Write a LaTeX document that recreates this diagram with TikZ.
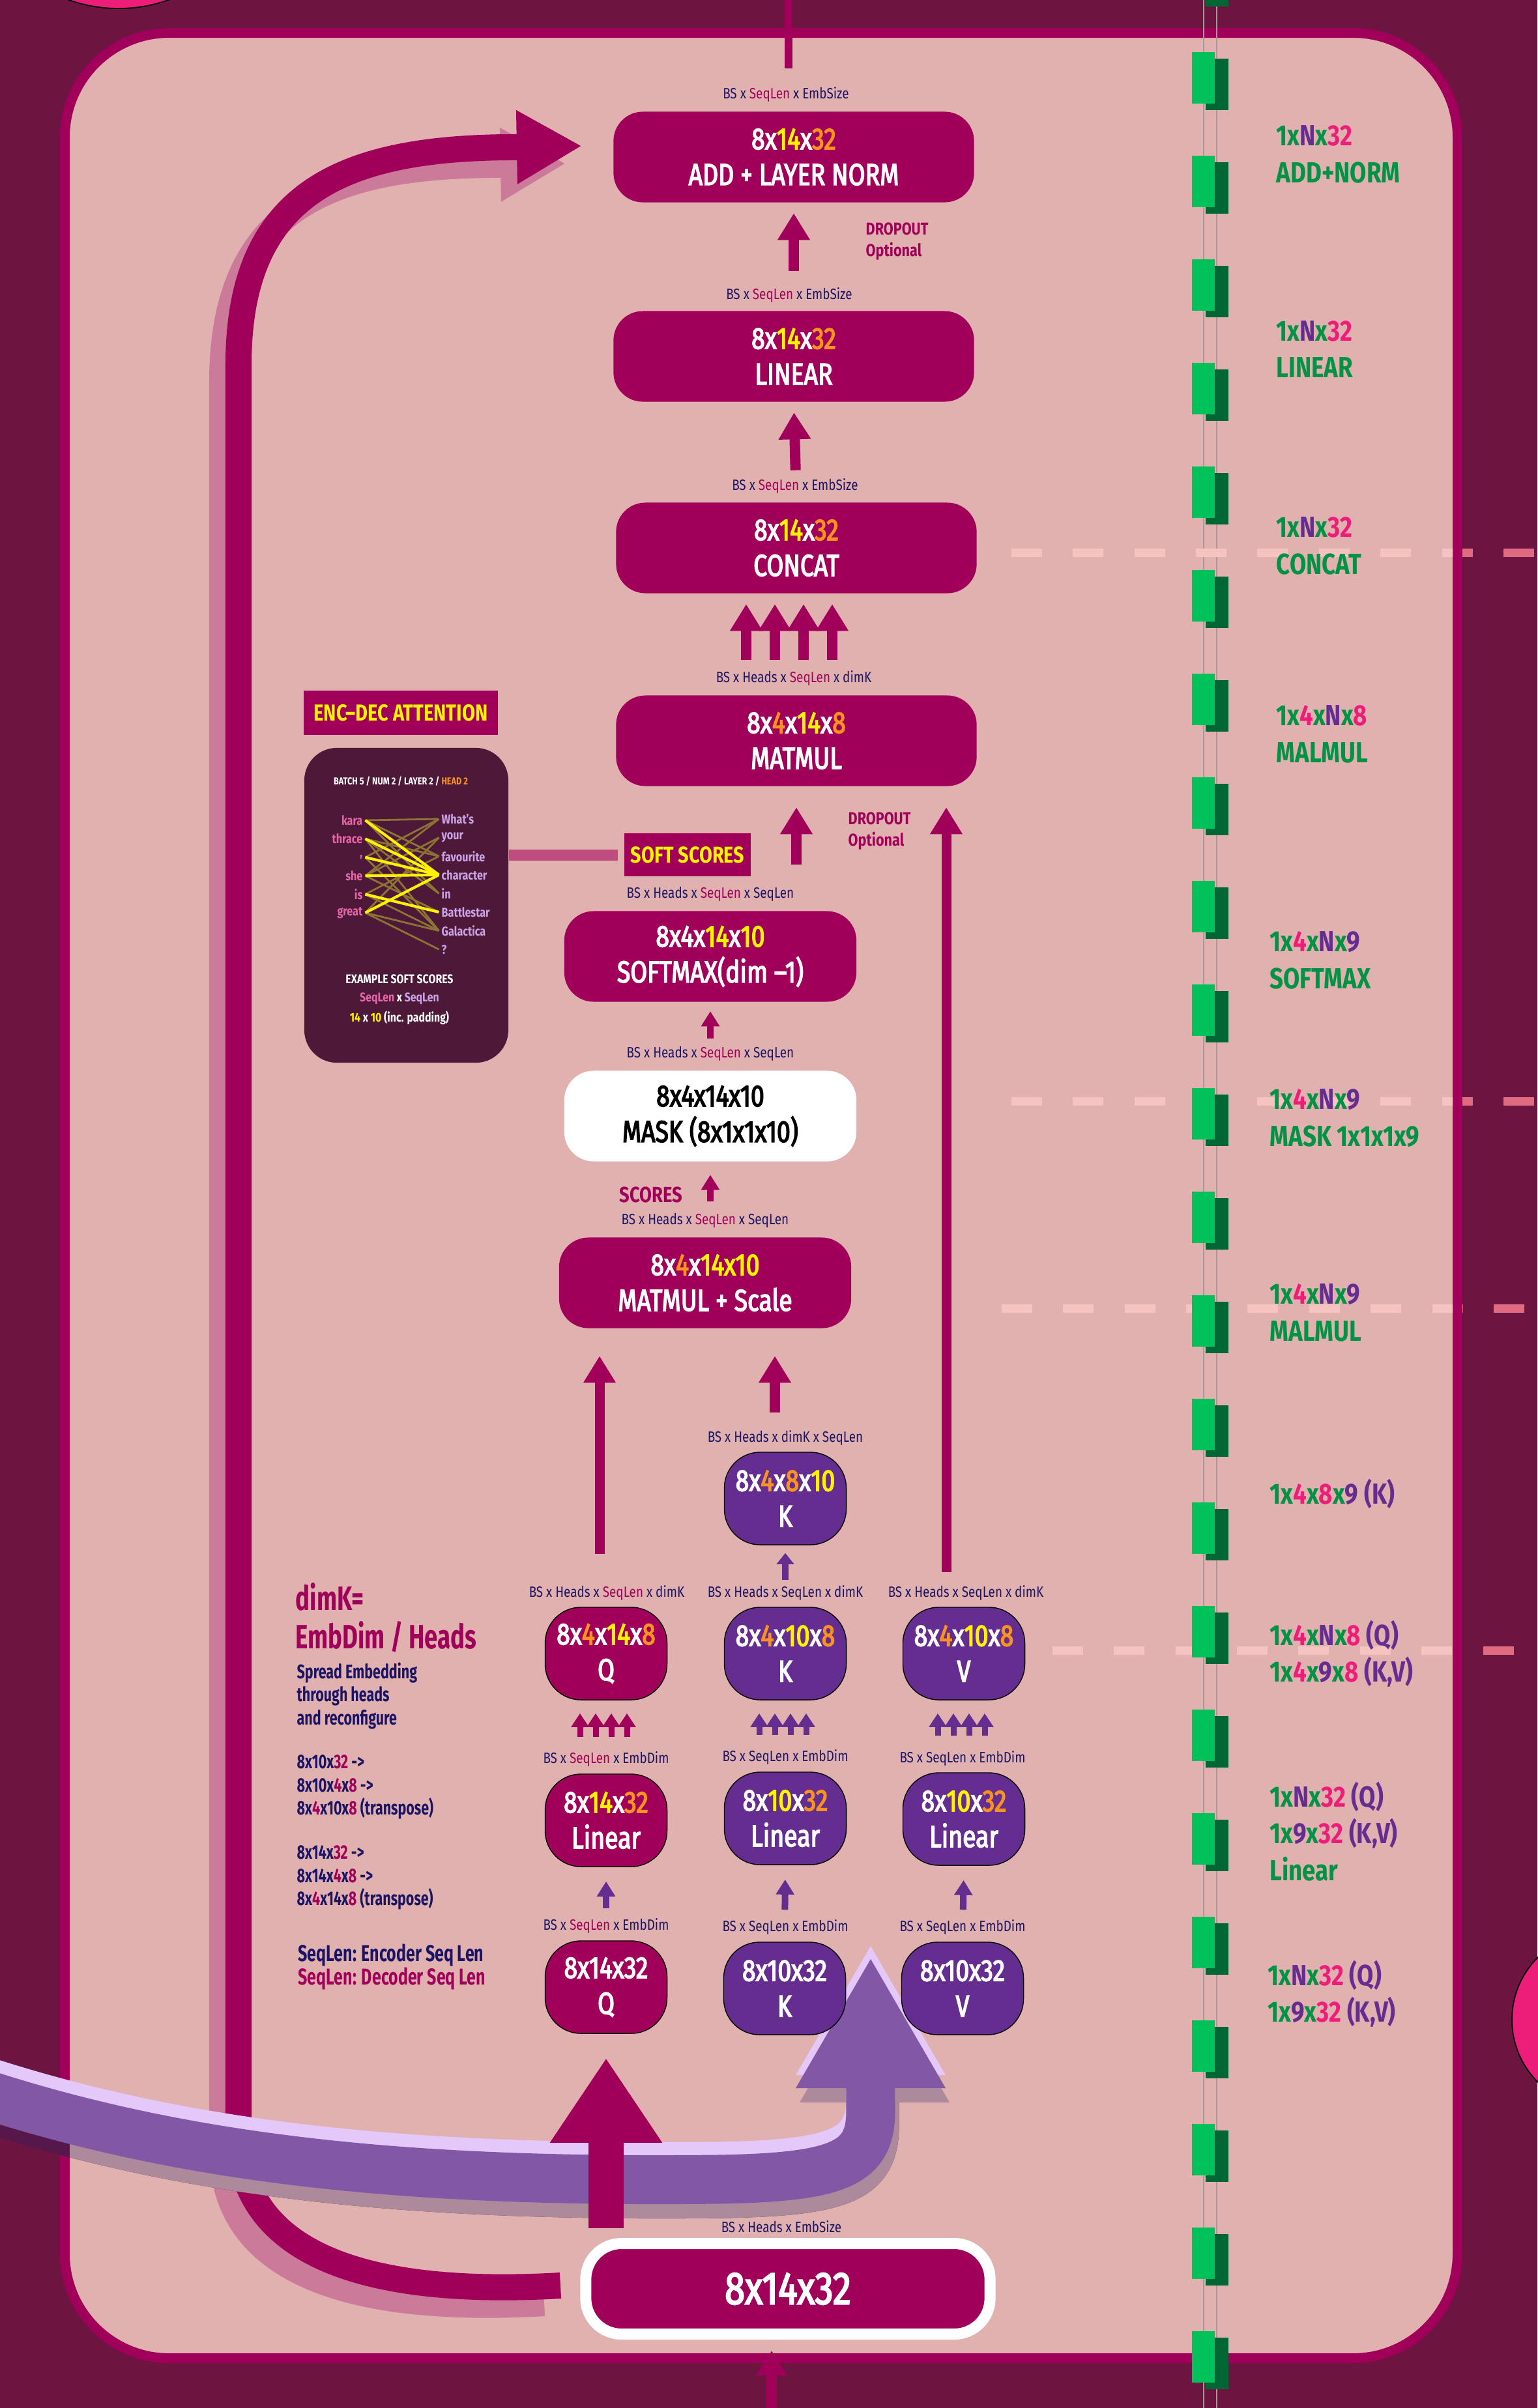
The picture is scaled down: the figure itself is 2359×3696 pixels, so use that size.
\documentclass[tikz,border=0pt]{standalone}
\usepackage{fontspec}
\setmainfont{Fira Sans}[FakeStretch=0.82]
\newfontfamily\notefont{Fira Sans}[FakeStretch=0.71]
\newfontfamily\boxfnt{Fira Sans}[FakeStretch=0.8, FakeBold=3]
\usetikzlibrary{arrows.meta,calc}

\definecolor{bgdark}{HTML}{6C1540}
\definecolor{panel}{HTML}{E1B1AF}
\definecolor{mag}{HTML}{A0005A}
\definecolor{purp}{HTML}{662D91}
\definecolor{bandpurp}{HTML}{8257A6}
\definecolor{lav}{HTML}{E4C8FA}
\definecolor{hlyel}{HTML}{FFF200}
\definecolor{hlora}{HTML}{F7931E}
\definecolor{navy}{HTML}{1B1464}
\definecolor{grn}{HTML}{009245}
\definecolor{pnk}{HTML}{ED1E79}
\definecolor{lgreen}{HTML}{00C15A}
\definecolor{dgreen}{HTML}{006633}
\definecolor{plum}{HTML}{4E1838}
\definecolor{loopshade}{HTML}{CC7A99}
\definecolor{dashpale}{HTML}{F5C4C0}
\definecolor{dashpink}{HTML}{E06A80}
\definecolor{wordpink}{HTML}{E466A8}
\definecolor{wordlav}{HTML}{C9A3E6}
\definecolor{olive}{HTML}{8C7434}
\definecolor{barpink}{HTML}{BF4C7E}
\definecolor{shadelight}{HTML}{AD8A9B}
\definecolor{shadedark}{HTML}{56184A}
\definecolor{railgray}{HTML}{A89898}

\newcommand{\ye}[1]{\textcolor{hlyel}{#1}}
\newcommand{\og}[1]{\textcolor{hlora}{#1}}
\newcommand{\mg}[1]{\textcolor{mag}{#1}}
\newcommand{\pk}[1]{\textcolor{pnk}{#1}}
\newcommand{\pu}[1]{\textcolor{purp}{#1}}

% residual loop and encoder band (pixel units)
\newcommand{\looppath}{(860,3508) .. controls (560,3525) and (372,3460) .. (366,3280) -- (366,560) .. controls (366,300) and (520,228) .. (780,226) -- (893,224)}
\newcommand{\bandpath}{(-30,3212) .. controls (300,3320) and (650,3350) .. (1100,3345) .. controls (1290,3342) and (1336,3320) .. (1336,3240) -- (1336,3201)}
\newcommand{\bandhead}{(1221,3205) -- (1451,3205) -- (1336,3007) -- cycle}

\begin{document}
\begin{tikzpicture}[x=0.01cm, y=-0.01cm,
    box/.style={fill=mag, text=white, rounded corners=0.45cm, align=center, inner sep=0pt,
      minimum width=5.53cm, minimum height=1.39cm, font=\boxfnt\fontsize{13.3}{15.6}\selectfont},
    cell/.style={box, draw=black, line width=0.4pt, rounded corners=0.55cm,
      minimum width=1.87cm, minimum height=1.42cm},
    dims/.style={text=navy, inner sep=0pt, font=\fontsize{6.55}{7.5}\selectfont},
    side/.style={text=grn, anchor=west, align=left, inner sep=0pt, font=\bfseries\fontsize{12.7}{16}\selectfont},
    note/.style={text=navy, anchor=west, align=left, inner sep=0pt, font=\notefont\bfseries\fontsize{8.6}{10}\selectfont},
    word/.style={inner sep=0pt, font=\bfseries\fontsize{5.6}{7}\selectfont},
    fat/.style={mag, line width=0.16cm, -{Triangle[width=0.47cm,length=0.41cm]}},
    slim/.style={line width=0.1cm, -{Triangle[width=0.27cm,length=0.23cm]}},
  ]
  \useasboundingbox (0,0) rectangle (2359,3696);
  \fill[bgdark] (0,0) rectangle (2359,3696);
  \fill[pnk, draw=black, line width=0.5pt] (182,-215) circle (228);
  \fill[pnk, draw=black, line width=0.5pt] (2455,3100) circle (135);

  % panel
  \draw[mag, fill=panel, line width=0.15cm, rounded corners=1.6cm] (99.5,50.5) rectangle (2236.5,3619.5);
  \coordinate (topin) at (1210,105);
  \draw[mag, line width=0.12cm] (topin) -- (topin |- 0,-10);

  \draw[railgray, line width=0.6pt] (1847,0) -- (1847,3696);
  \draw[railgray, line width=0.6pt] (1867,0) -- (1867,3696);

  % dashed guides
  \begin{scope}
    \clip (0,0) rectangle (2229,3696);
    \foreach \yy/\xs in {848/1552, 1690/1552, 2008/1537, 2533/1615}
      \draw[dashpale, line width=0.13cm, dash pattern=on 0.47cm off 0.473cm] (\xs,\yy) -- (2359,\yy);
  \end{scope}
  \begin{scope}
    \clip (2244,0) rectangle (2359,3696);
    \foreach \yy/\xs in {848/1552, 1690/1552, 2008/1537, 2533/1615}
      \draw[dashpink, line width=0.13cm, dash pattern=on 0.47cm off 0.473cm] (\xs,\yy) -- (2359,\yy);
  \end{scope}

  % residual loop
  \draw[loopshade, line width=0.4cm, -{Triangle[width=1.06cm,length=1cm]}, shift={(-25,27)}] \looppath;
  \draw[mag, line width=0.4cm, -{Triangle[width=1.06cm,length=1cm]}] \looppath;

  % encoder band
  \draw[shadedark, line width=0.75cm, shift={(6,22)}] \bandpath;
  \begin{scope}
    \clip[rounded corners=1.52cm] (107,58) rectangle (2229,3612);
    \draw[shadelight, line width=0.75cm, shift={(6,22)}] \bandpath;
    \fill[shadelight, shift={(6,22)}] \bandhead;
  \end{scope}
  \draw[lav, line width=0.75cm, shift={(0,-20)}] \bandpath;
  \fill[lav, shift={(0,-20)}] \bandhead;
  \draw[bandpurp, line width=0.75cm] \bandpath;
  \fill[bandpurp] \bandhead;

  % decoder stack
  \node[box] (add) at (1218,241) {8x\ye{14}x\og{32}\\ADD + LAYER NORM};
  \node[box] (lin) at (1218,547) {8x\ye{14}x\og{32}\\LINEAR};
  \node[box] (cat) at (1222,841) {8x\ye{14}x\og{32}\\CONCAT};
  \node[box] (mm) at (1222,1137) {8x\og{4}x\ye{14}x\og{8}\\MATMUL};
  \node[box, minimum width=4.48cm] (smax) at (1090,1468) {8x4x\ye{14}x\ye{10}\\SOFTMAX(dim –1)};
  \node[box, minimum width=4.48cm, fill=white, text=black] (mask) at (1090,1713) {8x4x14x10\\MASK (8x1x1x10)};
  \node[box, minimum width=4.48cm] (mms) at (1082,1969) {8x\og{4}x\ye{14x10}\\MATMUL + Scale};

  \node[dims] (d1) at (1206,145) {BS x \mg{SeqLen} x EmbSize};
  \node[dims] (d2) at (1211,453) {BS x \mg{SeqLen} x EmbSize};
  \node[dims] (d3) at (1220,746) {BS x \mg{SeqLen} x EmbSize};
  \node[dims] (d4) at (1218,1041) {BS x Heads x \mg{SeqLen} x dimK};
  \node[dims] (d5) at (1090,1372) {BS x Heads x \mg{SeqLen} x SeqLen};
  \node[dims] (d6) at (1090,1617) {BS x Heads x \mg{SeqLen} x SeqLen};
  \node[dims] (d7) at (1082,1873) {BS x Heads x \mg{SeqLen} x SeqLen};

  \node[anchor=west, align=left, text=mag, inner sep=0pt, font=\bfseries\fontsize{7.5}{9.4}\selectfont] (drop1) at (1328,371) {DROPOUT\\Optional};
  \node[anchor=west, align=left, text=mag, inner sep=0pt, font=\bfseries\fontsize{7.5}{9.4}\selectfont] (drop2) at (1301,1276) {DROPOUT\\Optional};
  \node[text=mag, inner sep=0pt, font=\bfseries\fontsize{9.5}{11}\selectfont] (scores) at (999,1834) {SCORES};
  \node[fill=mag, text=hlyel, minimum width=1.94cm, minimum height=0.66cm, inner sep=0pt,
    font=\bfseries\fontsize{10}{12}\selectfont] (soft) at (1055,1312) {SOFT SCORES};

  % heads
  \node[cell, fill=purp] (kt) at (1205,2300) {8x\og{4}x\og{8}x\ye{10}\\K};
  \node[dims] (d8) at (1205,2207) {BS x Heads x dimK x SeqLen};

  \node[cell] (qh) at (930,2538) {8x\og{4}x\ye{14}x\og{8}\\Q};
  \node[cell, fill=purp] (kh) at (1205,2538) {8x\og{4}x\ye{10}x\og{8}\\K};
  \node[cell, fill=purp] (vh) at (1479,2538) {8x\og{4}x\ye{10}x\og{8}\\V};
  \node[cell] (ql) at (930,2794) {8x\ye{14}x\og{32}\\Linear};
  \node[cell, fill=purp] (kl) at (1205,2791) {8x\ye{10}x\og{32}\\Linear};
  \node[cell, fill=purp] (vl) at (1479,2792) {8x\ye{10}x\og{32}\\Linear};
  \node[cell] (qi) at (930,3050) {8x14x32\\Q};
  \node[cell, fill=purp] (ki) at (1204,3052) {8x10x32\\K};
  \node[cell, fill=purp] (vi) at (1477,3052) {8x10x32\\V};

  \node[dims] (d9) at (931,2445) {BS x Heads x \mg{SeqLen} x dimK};
  \node[dims] (d10) at (1205,2445) {BS x Heads x SeqLen x dimK};
  \node[dims] (d11) at (1482,2445) {BS x Heads x SeqLen x dimK};
  \node[dims] (d12) at (930,2700) {BS x \mg{SeqLen} x EmbDim};
  \node[dims] (d13) at (1205,2697) {BS x SeqLen x EmbDim};
  \node[dims] (d14) at (1477,2699) {BS x SeqLen x EmbDim};
  \node[dims] (d15) at (930,2956) {BS x \mg{SeqLen} x EmbDim};
  \node[dims] (d16) at (1205,2958) {BS x SeqLen x EmbDim};
  \node[dims] (d17) at (1477,2958) {BS x SeqLen x EmbDim};

  \node[box, draw=white, line width=0.17cm, minimum width=6.2cm, minimum height=1.39cm,
    rounded corners=0.55cm, font=\boxfnt\fontsize{20}{23}\selectfont] (inbox) at (1209,3513) {8x14x32};
  \node[dims] (d18) at (1199,3418) {BS x Heads x EmbSize};

  % connectors
  \draw[fat, shorten <=0.61cm, shorten >=0.16cm] (lin.north) -- (add.south);
  \draw[fat, shorten <=0.49cm, shorten >=0.16cm] (cat.north) -- (lin.south);
  \foreach \dx in {-77,-33,11,55}
    \draw[fat, shorten <=0.54cm, shorten >=0.16cm] ($(mm.north)+(\dx,0)$) -- ($(cat.south)+(\dx,0)$);
  \draw[fat, shorten <=0.71cm, shorten >=0.32cm] (smax.north -| mm.south) -- (mm.south);
  \coordinate (vtop) at ($(vh.north)+(-27,0)$);
  \draw[fat, line width=0.15cm, shorten <=0.53cm, shorten >=0.32cm] (vtop) -- (vtop |- mm.south);
  \draw[slim, mag, shorten <=0.49cm, shorten >=0.14cm] (mask.north) -- (smax.south);
  \draw[slim, mag, shorten <=0.55cm, shorten >=0.2cm] (mms.north -| mask.south) -- (mask.south);
  \coordinate (qtop) at ($(qh.north)+(-10,0)$);
  \draw[fat, line width=0.15cm, shorten <=0.81cm, shorten >=0.42cm] (qtop) -- (qtop |- mms.south);
  \coordinate (ktop) at ($(kt.north)+(-16,0)$);
  \draw[fat, shorten <=0.6cm, shorten >=0.42cm] (ktop) -- (ktop |- mms.south);
  \draw[slim, purp, -{Triangle[width=0.26cm,length=0.17cm]}, shorten <=0.41cm, shorten >=0.12cm] (kh.north) -- (kt.south);
  \foreach \s/\t/\col in {ql/qh/mag, kl/kh/purp, vl/vh/purp}
    \foreach \dx in {-40,-16,8,32}
      \draw[slim, \col, line width=0.09cm, -{Triangle[width=0.26cm,length=0.21cm]}, shorten <=0.56cm, shorten >=0.2cm]
        ($(\s.north)+(\dx,0)$) -- ($(\t.south)+(\dx,0)$);
  \foreach \s/\t in {qi/ql, ki/kl, vi/vl}
    \draw[slim, purp, shorten <=0.49cm, shorten >=0.22cm] (\s.north) -- (\t.south);
  \draw[mag, line width=0.54cm, -{Triangle[width=1.63cm,length=1.3cm]}, shorten <=0.15cm, shorten >=0.37cm]
    (inbox.north -| qi.south) -- (qi.south);
  \coordinate (botin) at (1184,3710);
  \draw[fat, -{Triangle[width=0.46cm,length=0.38cm]}, shorten >=0.17cm] (botin) -- (botin |- inbox.south);

  % enc-dec attention example
  \node[fill=mag, text=hlyel, minimum width=2.97cm, minimum height=0.68cm, inner sep=0pt,
    font=\bfseries\fontsize{10.1}{12}\selectfont] (enctitle) at (615,1094) {ENC–DEC ATTENTION};
  \node[fill=plum, rounded corners=0.5cm, minimum width=3.13cm, minimum height=4.83cm, inner sep=0pt] (encbox) at (623.5,1389.5) {};
  \draw[barpink, line width=0.17cm, shorten >=0.09cm] (encbox.east |- soft.west) -- (soft.west);
  \node[text=white, inner sep=0pt, font=\bfseries\fontsize{4.4}{6}\selectfont] (hdr) at (615,1199) {BATCH 5 / NUM 2 / LAYER 2 / \og{HEAD 2}};
  \foreach \w [count=\i] in {kara,thrace,{,},she,is,great}
    \node[word, text=wordpink, anchor=east] (l\i) at (557,{1259+28.4*(\i-1)}) {\w};
  \foreach \w [count=\i] in {What's,your,favourite,character,in,Battlestar,Galactica,?}
    \node[word, text=wordlav, anchor=west] (r\i) at (677,{1257+28.6*(\i-1)}) {\w};
  \foreach \a/\b in {1/1,1/3,1/5,2/3,2/7,3/1,3/7,4/1,4/2,5/3,5/7,6/7,6/8,6/2,4/6,2/5}
    \draw[olive, line width=0.8pt] ([xshift=1pt]l\a.east) -- ([xshift=-1pt]r\b.west);
  \foreach \a/\b in {1/4,2/4,3/4,4/4,6/4,5/6}
    \draw[hlyel, line width=1.2pt] ([xshift=1pt]l\a.east) -- ([xshift=-1pt]r\b.west);
  \node[text=white, inner sep=0pt, font=\bfseries\fontsize{5.5}{7}\selectfont] (exs) at (613,1503) {EXAMPLE SOFT SCORES};
  \node[text=white, inner sep=0pt, font=\bfseries\fontsize{5.5}{7}\selectfont] (exd) at (613,1533) {\textcolor{wordpink}{SeqLen} x \textcolor{wordlav}{SeqLen}};
  \node[text=white, inner sep=0pt, font=\bfseries\fontsize{5.5}{7}\selectfont] (exn) at (613,1562) {\ye{14} x \ye{10} (inc. padding)};

  % notes on the left
  \node[note, text=mag, font=\notefont\bfseries\fontsize{14.7}{16.8}\selectfont] (dimk) at (453,2483) {dimK=\\EmbDim / Heads};
  \node[note] (spread) at (455,2603) {Spread Embedding\\through heads\\and reconfigure};
  \node[note] (ex1) at (455,2743) {8x10x\mg{32} ->\\8x10x\mg{4}x\mg{8} ->\\8x\mg{4}x10x\mg{8} (transpose)};
  \node[note] (ex2) at (455,2882) {8x14x\mg{32} ->\\8x14x\mg{4}x\mg{8} ->\\8x\mg{4}x14x\mg{8} (transpose)};
  \node[note, font=\notefont\bfseries\fontsize{10}{10.2}\selectfont] (seqn) at (457,3019) {SeqLen: Encoder Seq Len\\\mg{SeqLen: Decoder Seq Len}};

  % per-token sizes on the right
  \node[side] (s1) at (1958,237) {1x\pu{N}x\pk{32}\\ADD+NORM};
  \node[side] (s2) at (1958,536) {1x\pu{N}x\pk{32}\\LINEAR};
  \node[side] (s3) at (1958,838) {1x\pu{N}x\pk{32}\\CONCAT};
  \node[side] (s4) at (1958,1127) {1x\pk{4}x\pu{N}x\pk{8}\\MALMUL};
  \node[side] (s5) at (1948,1474) {1x\pk{4}x\pu{N}x\pu{9}\\SOFTMAX};
  \node[side] (s6) at (1948,1716) {1x\pk{4}x\pu{N}x\pu{9}\\MASK 1x1x1x9};
  \node[side] (s7) at (1948,2015) {1x\pk{4}x\pu{N}x\pu{9}\\MALMUL};
  \node[side] (s8) at (1948,2293) {1x\pk{4}x\pk{8}x\pu{9} \pu{(K)}};
  \node[side] (s9) at (1948,2538) {1x\pk{4}x\pu{N}x\pk{8} \pu{(Q)}\\1x\pk{4}x\pu{9}x\pk{8} \pu{(K,V)}};
  \node[side] (s10) at (1948,2811) {1x\pu{N}x\pk{32} \pu{(Q)}\\1x\pu{9}x\pk{32} \pu{(K,V)}\\Linear};
  \node[side] (s11) at (1945,3060) {1x\pu{N}x\pk{32} \pu{(Q)}\\1x\pu{9}x\pk{32} \pu{(K,V)}};

  % green rail
  \foreach \k in {-1,...,22}
    {
      \pgfmathsetmacro{\ytop}{80+159*\k}
      \fill[dgreen] (1850,{\ytop+10}) rectangle (1885,{\ytop+89});
      \fill[lgreen] (1829,\ytop) rectangle (1864,{\ytop+79});
    }
\end{tikzpicture}
\end{document}
